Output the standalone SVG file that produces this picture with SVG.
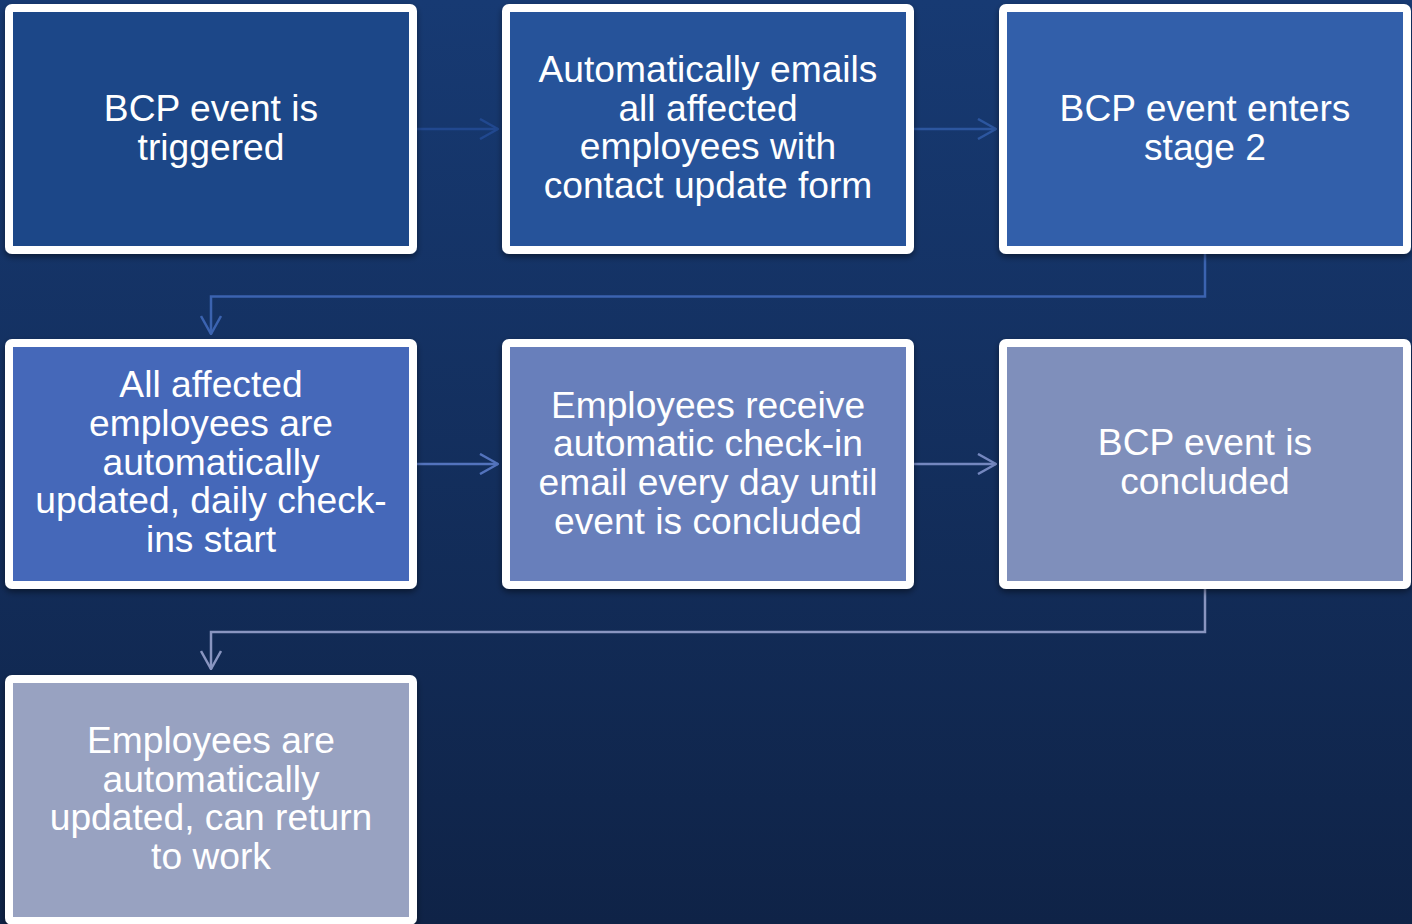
<svg xmlns="http://www.w3.org/2000/svg" width="1412" height="924" viewBox="0 0 1412 924">
<defs>
<linearGradient id="bg" x1="0" y1="0" x2="0" y2="1">
<stop offset="0" stop-color="#173a73"/>
<stop offset="1" stop-color="#0f2347"/>
</linearGradient>
<filter id="sh" x="-5%" y="-5%" width="110%" height="115%">
<feDropShadow dx="0" dy="3" stdDeviation="3" flood-color="#000" flood-opacity="0.45"/>
</filter>
<marker id="ah" viewBox="0 0 20 22" refX="19" refY="11" markerWidth="20" markerHeight="22" markerUnits="userSpaceOnUse" orient="auto">
<path d="M1,1 L19,11 L1,21" fill="none" stroke="context-stroke" stroke-width="2.5"/>
</marker>
</defs>
<style>
.box rect{stroke:#fff;stroke-width:8;filter:url(#sh)}
.box text{font-family:"Liberation Sans",Arial,sans-serif;font-size:37.2px;fill:#fff;text-anchor:middle}
.con path{fill:none;stroke-width:2.5;marker-end:url(#ah)}
</style>
<rect width="1412" height="924" fill="url(#bg)"/>
<g id="connectors" class="con">
<path d="M417,129 H498" stroke="#21488f"/>
<path d="M914,129 H996" stroke="#2c569f"/>
<path d="M1205,254 V296.5 H211 V334" stroke="#3b63b0"/>
<path d="M417,464 H498" stroke="#5373bd"/>
<path d="M914,464 H996" stroke="#7487bf"/>
<path d="M1205,589 V632 H211 V669" stroke="#8995c0"/>
</g>
<g id="n1" class="box">
<rect x="9" y="8" width="404" height="242" rx="3" fill="#1d4688"/>
<text x="211" y="120.7">BCP event is</text>
<text x="211" y="159.5">triggered</text>
</g>
<g id="n2" class="box">
<rect x="506" y="8" width="404" height="242" rx="3" fill="#26529a"/>
<text x="708" y="81.7">Automatically emails</text>
<text x="708" y="120.5">all affected</text>
<text x="708" y="159.3">employees with</text>
<text x="708" y="198.1">contact update form</text>
</g>
<g id="n3" class="box">
<rect x="1003" y="8" width="404" height="242" rx="3" fill="#335eaa"/>
<text x="1205" y="120.7">BCP event enters</text>
<text x="1205" y="159.5">stage 2</text>
</g>
<g id="n4" class="box">
<rect x="9" y="343" width="404" height="242" rx="3" fill="#4567b9"/>
<text x="211" y="397">All affected</text>
<text x="211" y="435.8">employees are</text>
<text x="211" y="474.6">automatically</text>
<text x="211" y="513.4">updated, daily check-</text>
<text x="211" y="552.2">ins start</text>
</g>
<g id="n5" class="box">
<rect x="506" y="343" width="404" height="242" rx="3" fill="#687fbb"/>
<text x="708" y="417.5">Employees receive</text>
<text x="708" y="456.3">automatic check-in</text>
<text x="708" y="495.1">email every day until</text>
<text x="708" y="533.9">event is concluded</text>
</g>
<g id="n6" class="box">
<rect x="1003" y="343" width="404" height="242" rx="3" fill="#7f8fbb"/>
<text x="1205" y="455.3">BCP event is</text>
<text x="1205" y="494.1">concluded</text>
</g>
<g id="n7" class="box">
<rect x="9" y="679" width="404" height="242" rx="3" fill="#98a2c1"/>
<text x="211" y="752.7">Employees are</text>
<text x="211" y="791.5">automatically</text>
<text x="211" y="830.3">updated, can return</text>
<text x="211" y="869.1">to work</text>
</g>
</svg>
